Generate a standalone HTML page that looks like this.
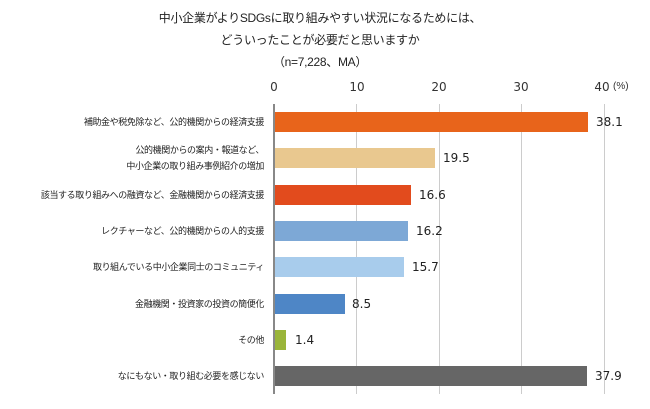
<!DOCTYPE html>
<html><head><meta charset="utf-8"><style>
html,body{margin:0;padding:0;background:#fff;}
body{width:650px;height:409px;position:relative;overflow:hidden;font-family:"Liberation Sans","Noto Sans CJK JP",sans-serif;color:#222;}
.t{position:absolute;left:0;width:640px;text-align:center;font-size:12px;letter-spacing:-0.3px;}
.tick{position:absolute;top:80px;font-size:12px;width:30px;margin-left:-15px;text-align:center;color:#333;font-family:"DejaVu Sans",sans-serif;}
.g{position:absolute;top:104px;height:290px;width:1px;background:#ccc;}
.bar{position:absolute;left:275px;height:20px;}
.v{position:absolute;font-size:12px;color:#222;font-family:"DejaVu Sans",sans-serif;}
.lab{position:absolute;right:386px;font-size:9px;letter-spacing:-0.4px;text-align:right;line-height:16px;color:#222;white-space:nowrap;}
</style></head><body>
<div class="t" style="top:9px">中小企業がよりSDGsに取り組みやすい状況になるためには、</div>
<div class="t" style="top:31px">どういったことが必要だと思いますか</div>
<div class="t" style="top:53px">（n=7,228、MA）</div>
<div class="tick" style="left:274px">0</div>
<div class="tick" style="left:357px">10</div>
<div class="tick" style="left:439px">20</div>
<div class="tick" style="left:521px">30</div>
<div class="tick" style="left:602px">40</div>
<div style="position:absolute;left:613px;top:81px;font-size:10px;color:#333">(%)</div>
<div class="g" style="left:356px"></div>
<div class="g" style="left:439px"></div>
<div class="g" style="left:521px"></div>
<div class="g" style="left:604px"></div>
<div class="g" style="left:273px;width:2px;background:#888"></div>

<div class="bar" style="top:112px;width:313px;background:#E8641B"></div>
<div class="bar" style="top:148px;width:160px;background:#E9C88F"></div>
<div class="bar" style="top:185px;width:136px;background:#E24B1D"></div>
<div class="bar" style="top:221px;width:133px;background:#7DA8D6"></div>
<div class="bar" style="top:257px;width:129px;background:#A8CCEC"></div>
<div class="bar" style="top:294px;width:70px;background:#4E86C6"></div>
<div class="bar" style="top:330px;width:11px;background:#9AB53A"></div>
<div class="bar" style="top:366px;width:312px;background:#666"></div>

<div class="v" style="left:596px;top:115px">38.1</div>
<div class="v" style="left:443px;top:151px">19.5</div>
<div class="v" style="left:419px;top:188px">16.6</div>
<div class="v" style="left:416px;top:224px">16.2</div>
<div class="v" style="left:412px;top:260px">15.7</div>
<div class="v" style="left:352px;top:297px">8.5</div>
<div class="v" style="left:295px;top:333px">1.4</div>
<div class="v" style="left:595px;top:369px">37.9</div>

<div class="lab" style="top:114px">補助金や税免除など、公的機関からの経済支援</div>
<div class="lab" style="top:142px">公的機関からの案内・報道など、<br>中小企業の取り組み事例紹介の増加</div>
<div class="lab" style="top:187px">該当する取り組みへの融資など、金融機関からの経済支援</div>
<div class="lab" style="top:223px">レクチャーなど、公的機関からの人的支援</div>
<div class="lab" style="top:259px">取り組んでいる中小企業同士のコミュニティ</div>
<div class="lab" style="top:296px">金融機関・投資家の投資の簡便化</div>
<div class="lab" style="top:332px">その他</div>
<div class="lab" style="top:368px">なにもない・取り組む必要を感じない</div>
</body></html>
